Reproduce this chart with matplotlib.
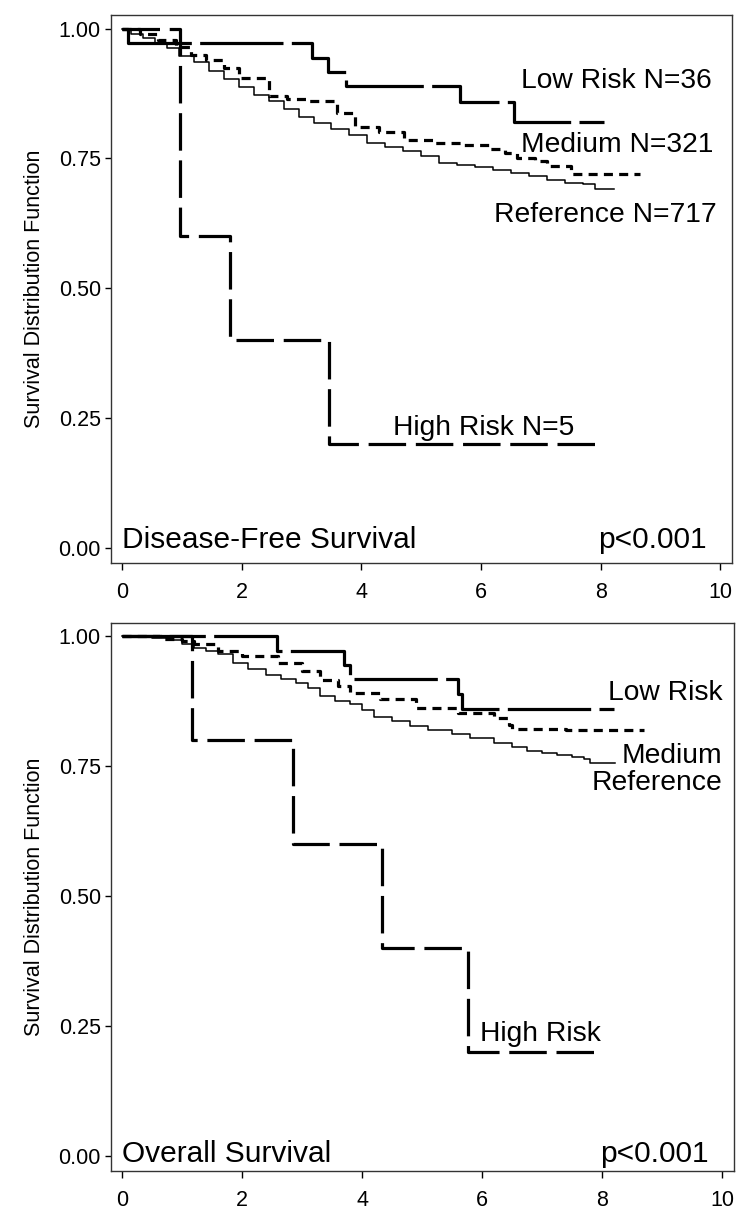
import numpy as np
import matplotlib
matplotlib.use('Agg')
import matplotlib.pyplot as plt

plt.rcParams['font.family'] = ['Liberation Sans', 'DejaVu Sans']
plt.rcParams['lines.scale_dashes'] = False


#disease-free survival
dfs_ref_t = [0, 0.15, 0.35, 0.55, 0.75, 0.95, 1.2, 1.45, 1.7, 1.95, 2.2, 2.45, 2.7, 2.95, 3.2, 3.5,
             3.8, 4.1, 4.4, 4.7, 5.0, 5.3, 5.6, 5.9, 6.2, 6.5, 6.8, 7.1, 7.4, 7.7, 7.9, 8.22]
dfs_ref_s = [1.0, 0.99, 0.982, 0.972, 0.962, 0.948, 0.935, 0.918, 0.902, 0.888, 0.872, 0.86, 0.845, 0.83, 0.818, 0.806,
             0.795, 0.78, 0.772, 0.765, 0.755, 0.742, 0.737, 0.733, 0.727, 0.722, 0.716, 0.708, 0.703, 0.7, 0.692, 0.692]
dfs_med_t = [0, 0.3, 0.6, 0.9, 1.15, 1.4, 1.7, 1.95, 2.45, 2.75, 3.1, 3.6, 3.9, 4.3, 4.72, 5.2,
             5.7, 6.15, 6.4, 6.6, 6.9, 7.1, 7.5, 8.66]
dfs_med_s = [1.0, 0.99, 0.978, 0.965, 0.95, 0.94, 0.925, 0.905, 0.87, 0.865, 0.86, 0.838, 0.81, 0.8, 0.785, 0.78,
             0.775, 0.768, 0.76, 0.75, 0.745, 0.735, 0.72, 0.72]
dfs_low_t = [0, 0.1, 3.17, 3.44, 3.74, 5.65, 6.55, 8.05]
dfs_low_s = [1.0, 0.972, 0.944, 0.917, 0.889, 0.858, 0.82, 0.82]
dfs_high_t = [0, 0.97, 1.8, 3.46, 8.0]
dfs_high_s = [1.0, 0.6, 0.4, 0.2, 0.2]

#overall survival
os_ref_t = [0, 0.5, 0.75, 1.0, 1.2, 1.4, 1.6, 1.85, 2.1, 2.4, 2.65, 2.9, 3.1, 3.3, 3.55, 3.8,
            4.0, 4.2, 4.5, 4.8, 5.1, 5.5, 5.8, 6.2, 6.5, 6.75, 7.0, 7.25, 7.5, 7.7, 7.8, 8.22]
os_ref_s = [1.0, 0.997, 0.993, 0.985, 0.978, 0.972, 0.965, 0.948, 0.938, 0.926, 0.918, 0.91, 0.9, 0.886, 0.876, 0.869,
            0.858, 0.845, 0.838, 0.828, 0.82, 0.812, 0.805, 0.795, 0.787, 0.779, 0.775, 0.772, 0.767, 0.764, 0.757, 0.757]
os_med_t = [0, 0.7, 1.0, 1.2, 1.6, 2.0, 2.6, 3.0, 3.3, 3.6, 3.8, 4.3, 4.9, 5.6, 6.2, 6.45, 6.5, 7.4, 8.69]
os_med_s = [1.0, 0.995, 0.99, 0.985, 0.972, 0.962, 0.949, 0.933, 0.915, 0.905, 0.89, 0.88, 0.862, 0.853, 0.843, 0.83,
            0.822, 0.819, 0.819]
os_low_t = [0, 2.58, 3.69, 3.8, 5.59, 5.67, 8.19]
os_low_s = [1.0, 0.972, 0.944, 0.917, 0.889, 0.861, 0.861]
os_high_t = [0, 1.16, 2.84, 4.33, 5.76, 8.0]
os_high_s = [1.0, 0.8, 0.6, 0.4, 0.2, 0.2]

xticks = [0, 2, 4, 6, 8, 10]
yticks = [0.0, 0.25, 0.5, 0.75, 1.0]
ylabel = 'Survival Distribution Function'

#line styles for the four groups
ref_style = dict(color='black', lw=1.1)
med_style = dict(color='black', lw=2.3, dashes=(6.5, 4.5))
low_style = dict(color='black', lw=2.3, dashes=(60, 6))
high_style = dict(color='black', lw=2.3, dashes=(27, 7))


def setup_axes(ax):
    ax.set_xlim(-0.19, 10.19)
    ax.set_ylim(-0.028, 1.026)
    ax.set_xticks(xticks)
    ax.set_xticklabels([str(x) for x in xticks])
    ax.set_yticks(yticks)
    ax.set_yticklabels(['%.2f' % y for y in yticks])
    ax.tick_params(axis='x', direction='out', length=5, width=1, labelsize=15.5, pad=9)
    ax.tick_params(axis='y', direction='out', length=4, width=1, labelsize=15.5, pad=3)
    for sp in ax.spines.values():
        sp.set_linewidth(1.0)
        sp.set_color('#333333')
    ax.set_ylabel(ylabel, fontsize=15.5, labelpad=10)


fig = plt.figure(figsize=(7.5, 12.29), dpi=100)

#top: disease free
ax1 = fig.add_axes([0.1476, 0.5419, 0.828, 0.4459])
ax1.plot(dfs_ref_t, dfs_ref_s, drawstyle='steps-post', **ref_style)
ax1.plot(dfs_med_t, dfs_med_s, drawstyle='steps-post', **med_style)
ax1.plot(dfs_low_t, dfs_low_s, drawstyle='steps-post', **low_style)
ax1.plot(dfs_high_t, dfs_high_s, drawstyle='steps-post', **high_style)
setup_axes(ax1)
ax1.text(6.66, 0.886, 'Low Risk N=36', fontsize=20.3, ha='left', va='baseline')
ax1.text(6.66, 0.762, 'Medium N=321', fontsize=20.3, ha='left', va='baseline')
ax1.text(6.22, 0.628, 'Reference N=717', fontsize=20.3, ha='left', va='baseline')
ax1.text(4.53, 0.218, 'High Risk N=5', fontsize=20.3, ha='left', va='baseline')
ax1.text(0.0, 0.0, 'Disease-Free Survival', fontsize=21.5, ha='left', va='baseline')
ax1.text(9.78, 0.0, 'p<0.001', fontsize=21.5, ha='right', va='baseline')

#bottom: overall
ax2 = fig.add_axes([0.1476, 0.0472, 0.8307, 0.4461])
ax2.plot(os_ref_t, os_ref_s, drawstyle='steps-post', **ref_style)
ax2.plot(os_med_t, os_med_s, drawstyle='steps-post', **med_style)
ax2.plot(os_low_t, os_low_s, drawstyle='steps-post', **low_style)
ax2.plot(os_high_t, os_high_s, drawstyle='steps-post', **high_style)
setup_axes(ax2)
ax2.text(10.0, 0.878, 'Low Risk', fontsize=20.3, ha='right', va='baseline')
ax2.text(10.0, 0.756, 'Medium', fontsize=20.3, ha='right', va='baseline')
ax2.text(10.0, 0.705, 'Reference', fontsize=20.3, ha='right', va='baseline')
ax2.text(5.96, 0.221, 'High Risk', fontsize=20.3, ha='left', va='baseline')
ax2.text(0.0, -0.01, 'Overall Survival', fontsize=21.5, ha='left', va='baseline')
ax2.text(9.78, -0.01, 'p<0.001', fontsize=21.5, ha='right', va='baseline')

plt.savefig('out.png', dpi=100)
